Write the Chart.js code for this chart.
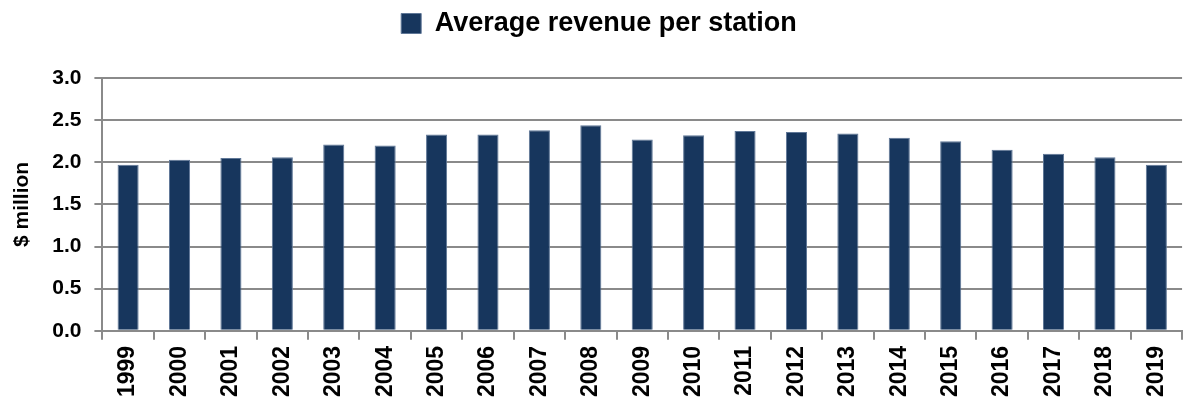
<!DOCTYPE html>
<html lang="en">
<head>
    <meta charset="UTF-8">
    <title>Average revenue per station</title>
    <script src="https://cdn.jsdelivr.net/npm/chart.js"></script>
    <style>
        body { margin: 0; background: #fff; }
    </style>
</head>
<body>
    <canvas id="revenueChart" width="1190" height="404"></canvas>

    <script>
        // data
        const years = ['1999', '2000', '2001', '2002', '2003', '2004', '2005', '2006', '2007', '2008', '2009',
                       '2010', '2011', '2012', '2013', '2014', '2015', '2016', '2017', '2018', '2019'];
        const revenue = [1.97, 2.03, 2.05, 2.06, 2.21, 2.20, 2.33, 2.33, 2.38, 2.44, 2.27,
                         2.32, 2.37, 2.36, 2.34, 2.29, 2.25, 2.15, 2.10, 2.06, 1.97];
        const yTicks = [0, 0.5, 1, 1.5, 2, 2.5, 3];

        const font = '"Liberation Sans", Arial, sans-serif';
        const gridColor = '#8a8a8a';

        // extra space under the legend
        const legendGap = {
            id: 'legendGap',
            beforeInit(chart) {
                const fit = chart.legend.fit;
                chart.legend.fit = function () {
                    fit.bind(chart.legend)();
                    this.height += 31;
                };
            }
        };

        const ctx = document.getElementById('revenueChart').getContext('2d');
        new Chart(ctx, {
            type: 'bar',
            data: {
                labels: years,
                datasets: [{
                    label: 'Average revenue per station',
                    data: revenue,
                    backgroundColor: '#17365d',
                    borderColor: '#5f7797',
                    borderWidth: 1,
                    barPercentage: 0.41,
                    categoryPercentage: 1
                }]
            },
            options: {
                responsive: false,
                animation: false,
                layout: { padding: { left: 10, right: 2, top: 0, bottom: 1 } },
                plugins: {
                    legend: {
                        labels: {
                            boxWidth: 20,
                            boxHeight: 20,
                            color: '#000',
                            font: { family: font, size: 27, weight: 'bold' }
                        }
                    },
                    tooltip: { enabled: false }
                },
                scales: {
                    x: {
                        grid: { offset: true, drawOnChartArea: false, color: gridColor, lineWidth: 2, tickLength: 9 },
                        border: { color: gridColor, width: 2 },
                        ticks: {
                            minRotation: 90,
                            maxRotation: 90,
                            padding: 6,
                            color: '#000',
                            font: { family: font, size: 23, weight: 'bold' }
                        }
                    },
                    y: {
                        min: 0,
                        max: 3,
                        afterBuildTicks: axis => { axis.ticks = yTicks.map(v => ({ value: v })); },
                        grid: { color: gridColor, lineWidth: 2, tickLength: 8 },
                        border: { color: gridColor, width: 2 },
                        title: {
                            display: true,
                            text: '$ million',
                            color: '#000',
                            padding: { top: 0, bottom: 4 },
                            font: { family: font, size: 21, weight: 'bold' }
                        },
                        ticks: {
                            padding: 13,
                            color: '#000',
                            font: { family: font, size: 21, weight: 'bold' },
                            callback: v => v.toFixed(1)
                        }
                    }
                }
            },
            plugins: [legendGap]
        });
    </script>
</body>
</html>
